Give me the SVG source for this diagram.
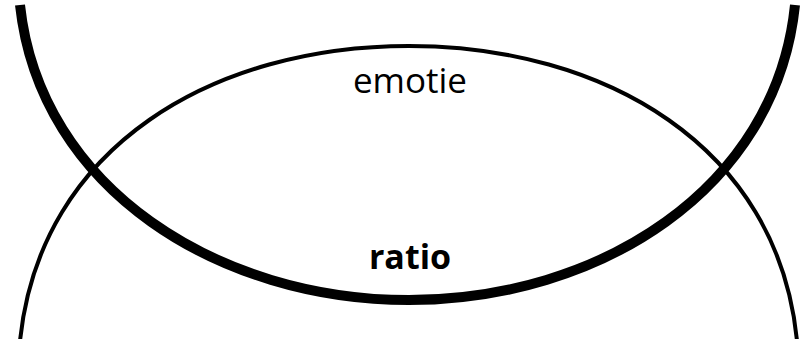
<svg xmlns="http://www.w3.org/2000/svg" width="802" height="339" viewBox="0 0 802 339">
<style>
.arc{fill:none;stroke:#000;stroke-linecap:butt}
.thin{stroke-width:4}
.thick{stroke-width:10}
.lbl{font-family:"Open Sans","Liberation Sans",sans-serif;fill:#000;text-anchor:middle}
</style>
<rect width="802" height="339" fill="#fff"/>
<g id="emotie">
<path class="arc thin" d="M20,341 C40,145 215,46 409,46 C603,46 778,145 797,341"/>
<text class="lbl" x="410" y="93" font-size="35">emotie</text>
</g>
<g id="ratio">
<path class="arc thick" d="M20,5 C40,190 220,300 409,300 C598,300 776,190 795,5"/>
<text class="lbl" x="410" y="269" font-size="34" font-weight="bold">ratio</text>
</g>
<g id="connectors"></g>
</svg>
